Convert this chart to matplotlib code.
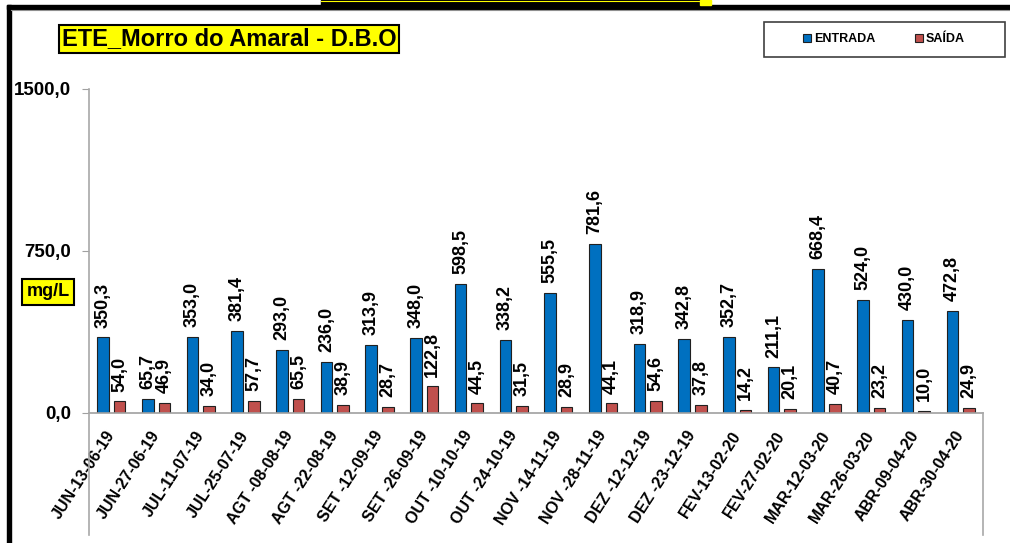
import numpy as np
import matplotlib
matplotlib.use("Agg")
import matplotlib.pyplot as plt
from matplotlib.patches import Rectangle
from matplotlib.lines import Line2D

plt.rcParams['font.family'] = ['Liberation Sans', 'DejaVu Sans']

datas = ["JUN-13-06-19", "JUN-27-06-19", "JUL-11-07-19", "JUL-25-07-19",
         "AGT -08-08-19", "AGT -22-08-19", "SET -12-09-19", "SET -26-09-19",
         "OUT -10-10-19", "OUT -24-10-19", "NOV -14-11-19", "NOV -28-11-19",
         "DEZ -12-12-19", "DEZ -23-12-19", "FEV-13-02-20", "FEV-27-02-20",
         "MAR-12-03-20", "MAR-26-03-20", "ABR-09-04-20", "ABR-30-04-20"]
entrada = [350.3, 65.7, 353.0, 381.4, 293.0, 236.0, 313.9, 348.0, 598.5, 338.2,
           555.5, 781.6, 318.9, 342.8, 352.7, 211.1, 668.4, 524.0, 430.0, 472.8]
saida = [54.0, 46.9, 34.0, 57.7, 65.5, 38.9, 28.7, 122.8, 44.5, 31.5,
         28.9, 44.1, 54.6, 37.8, 14.2, 20.1, 40.7, 23.2, 10.0, 24.9]
yticks = [0, 750, 1500]

W, H = 1010, 543
fig = plt.figure(figsize=(W / 100, H / 100), dpi=100)

def fx(x):
    return x / W

def fy(y):
    return 1 - y / H

ax = fig.add_axes([fx(89), fy(413), fx(983) - fx(89), fy(89) - fy(413)])

x = np.arange(len(datas))
w = 0.26
off = 0.185
azul = '#0070C0'
verm = '#C0504D'
b1 = ax.bar(x - off, entrada, w, color=azul, edgecolor='#202020', linewidth=0.8, label='ENTRADA')
b2 = ax.bar(x + off, saida, w, color=verm, edgecolor='#202020', linewidth=0.8, label='SAÍDA')

def fmt(v):
    return f"{v:.1f}".replace('.', ',')

for xi, v in zip(x - off, entrada):
    ax.annotate(fmt(v), (xi, v), xytext=(0, 7), textcoords='offset points',
                rotation=90, ha='center', va='bottom', fontsize=13, fontweight='bold')
for xi, v in zip(x + off, saida):
    ax.annotate(fmt(v), (xi, v), xytext=(0, 7), textcoords='offset points',
                rotation=90, ha='center', va='bottom', fontsize=13, fontweight='bold')

ax.set_xlim(-0.5, len(datas) - 0.5)
ax.set_ylim(0, 1500)
ax.set_yticks(yticks)
ax.set_yticklabels([fmt(v) for v in yticks], fontsize=13.5, fontweight='bold')
ax.tick_params(axis='y', length=5, color='#A0A0A0', pad=8)
ax.set_xticks(x)
ax.set_xticklabels(datas, rotation=57, ha='right', va='center', rotation_mode='anchor',
                   fontsize=11.5, fontweight='bold')
ax.tick_params(axis='x', length=0, pad=14)

for s in ['top', 'right', 'left']:
    ax.spines[s].set_visible(False)
ax.spines['bottom'].set_color('#A0A0A0')
ax.spines['bottom'].set_linewidth(1.2)
ax.set_facecolor('none')

# linhas do eixo estendidas pela area de rotulos
cinza = '#A8A8A8'
fig.add_artist(Line2D([fx(89), fx(89)], [fy(89), fy(535)], color=cinza, lw=1.2))
fig.add_artist(Line2D([fx(983), fx(983)], [fy(413), fy(535)], color=cinza, lw=1.2))

# moldura
fig.add_artist(Rectangle((fx(7), 0), fx(4), fy(5), color='black', transform=fig.transFigure))
fig.add_artist(Rectangle((fx(7), fy(9)), 1, fy(5) - fy(9), color='black', transform=fig.transFigure))
fig.add_artist(Line2D([fx(11), 1], [fy(10), fy(10)], color='#909090', lw=0.8))
fig.add_artist(Rectangle((fx(321), fy(5)), fx(380), fy(0) - fy(5), color='black', transform=fig.transFigure))
fig.add_artist(Rectangle((fx(700), fy(5)), fx(11), fy(0) - fy(5), color='#FFFF00', transform=fig.transFigure))
fig.add_artist(Line2D([fx(321), fx(711)], [fy(0.5), fy(0.5)], color='#FFFF00', lw=0.8))

# titulo
fig.text(fx(229), fy(39), "ETE_Morro do Amaral - D.B.O", fontsize=17, fontweight='bold',
         ha='center', va='center',
         bbox=dict(boxstyle='square,pad=0.12', facecolor='#FFFF00', edgecolor='black', linewidth=1.5))

# unidade
fig.text(fx(48), fy(292), "mg/L", fontsize=13, fontweight='bold', ha='center', va='center',
         bbox=dict(boxstyle='square,pad=0.25', facecolor='#FFFF00', edgecolor='black', linewidth=1.5))

# legenda
fig.add_artist(Rectangle((fx(764), fy(57)), fx(1005) - fx(764), fy(22) - fy(57),
                         facecolor='white', edgecolor='#404040', linewidth=1.2,
                         transform=fig.transFigure))
fig.legend(handles=[b1, b2], loc='center', bbox_to_anchor=(fx(884), fy(39.5)), ncol=2,
           frameon=False, prop={'size': 9, 'weight': 'bold'}, handlelength=0.6,
           handleheight=0.6, handletextpad=0.25, columnspacing=3.2)

fig.savefig("out.png", dpi=100)
